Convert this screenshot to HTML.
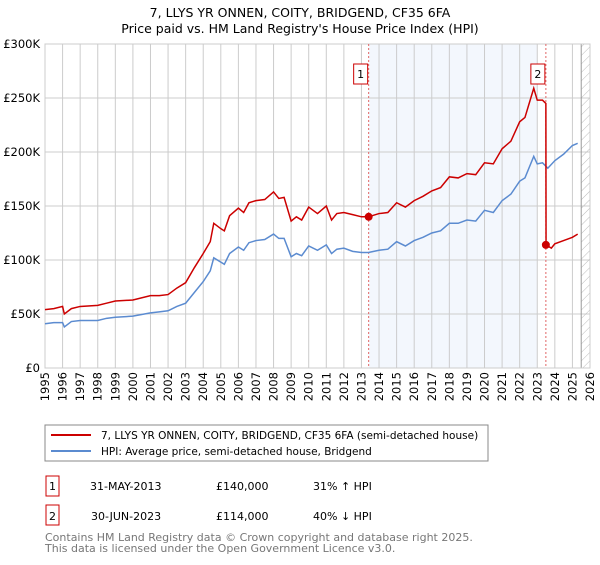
<!DOCTYPE html>
<html><head><meta charset="utf-8"><style>
body{margin:0;background:#fff;font-family:"Liberation Sans","DejaVu Sans",sans-serif;}
svg text{font-family:"DejaVu Sans","Liberation Sans",sans-serif;}
</style></head><body>
<svg id="chart" width="600" height="560">
<text x="300" y="17" text-anchor="middle" font-size="12.5">7, LLYS YR ONNEN, COITY, BRIDGEND, CF35 6FA</text>
<text x="300" y="33" text-anchor="middle" font-size="12.5">Price paid vs. HM Land Registry's House Price Index (HPI)</text>
<g id="plot"></g>
<rect x="45" y="425" width="443" height="36" fill="#fff" stroke="#888"/>
<line x1="51" y1="435" x2="91" y2="435" stroke="#cc0000" stroke-width="2"/>
<text x="101" y="439" font-size="10.5">7, LLYS YR ONNEN, COITY, BRIDGEND, CF35 6FA (semi-detached house)</text>
<line x1="51" y1="451" x2="91" y2="451" stroke="#5b8bd0" stroke-width="2"/>
<text x="101" y="455" font-size="10.5">HPI: Average price, semi-detached house, Bridgend</text>
<rect x="46" y="476" width="13" height="20" fill="none" stroke="#cc0000"/>
<text x="52.5" y="490" text-anchor="middle" font-size="11">1</text>
<text x="90" y="490" font-size="11">31-MAY-2013</text>
<text x="216" y="490" font-size="11">£140,000</text>
<text x="313" y="490" font-size="11">31% ↑ HPI</text>
<rect x="46" y="505" width="13" height="20" fill="none" stroke="#cc0000"/>
<text x="52.5" y="520" text-anchor="middle" font-size="11">2</text>
<text x="91" y="520" font-size="11">30-JUN-2023</text>
<text x="216" y="520" font-size="11">£114,000</text>
<text x="313" y="520" font-size="11">40% ↓ HPI</text>
<text x="45" y="541" font-size="11" fill="#777">Contains HM Land Registry data © Crown copyright and database right 2025.</text>
<text x="45" y="552" font-size="11" fill="#777">This data is licensed under the Open Government Licence v3.0.</text>
</svg>
<script>
const yTicks=[0,50,100,150,200,250,300];
const yTickLabels=["£0","£50K","£100K","£150K","£200K","£250K","£300K"];
const xYears=[1995,1996,1997,1998,1999,2000,2001,2002,2003,2004,2005,2006,2007,2008,2009,2010,2011,2012,2013,2014,2015,2016,2017,2018,2019,2020,2021,2022,2023,2024,2025,2026];
const hpiT=[1995,1995.5,1996,1996.1,1996.5,1997,1998,1998.5,1999,2000,2001,2001.5,2002,2002.5,2003,2003.5,2004,2004.4,2004.6,2005,2005.2,2005.5,2006,2006.3,2006.6,2007,2007.5,2008,2008.3,2008.6,2009,2009.3,2009.6,2010,2010.5,2011,2011.3,2011.6,2012,2012.5,2013,2013.4,2014,2014.5,2015,2015.5,2016,2016.5,2017,2017.5,2018,2018.5,2019,2019.5,2020,2020.5,2021,2021.5,2022,2022.3,2022.8,2023,2023.3,2023.6,2024,2024.5,2025,2025.3];
const hpiV=[41,42,42,38,43,44,44,46,47,48,51,52,53,57,60,70,80,90,102,98,96,106,112,109,116,118,119,124,120,120,103,106,104,113,109,114,106,110,111,108,107,107,109,110,117,113,118,121,125,127,134,134,137,136,146,144,155,161,173,176,196,189,190,185,192,198,206,208];
const priceT=[1995,1995.5,1996,1996.1,1996.5,1997,1998,1998.5,1999,2000,2001,2001.5,2002,2002.5,2003,2003.5,2004,2004.4,2004.6,2005,2005.2,2005.5,2006,2006.3,2006.6,2007,2007.5,2008,2008.3,2008.6,2009,2009.3,2009.6,2010,2010.5,2011,2011.3,2011.6,2012,2012.5,2013,2013.4,2014,2014.5,2015,2015.5,2016,2016.5,2017,2017.5,2018,2018.5,2019,2019.5,2020,2020.5,2021,2021.5,2022,2022.3,2022.8,2023,2023.3,2023.49,2023.5,2023.8,2024,2024.5,2025,2025.3];
const priceV=[54,55,57,50,55,57,58,60,62,63,67,67,68,74,79,93,106,117,134,129,127,141,148,144,153,155,156,163,157,158,136,140,137,149,143,150,137,143,144,142,140,140,143,144,153,149,155,159,164,167,177,176,180,179,190,189,203,210,228,232,259,248,248,245,114,111,115,118,121,124];
const salesT=[2013.41,2023.49];
const salesV=[140,114];
const salesLabels=["1","2"];

const NS="http://www.w3.org/2000/svg";
const L=45,R=590,T=44,B=368;
const x0=1995,x1=2026,yMax=300;
const sx=t=>L+(t-x0)/(x1-x0)*(R-L);
const sy=v=>B-v/yMax*(B-T);
const g=document.getElementById('plot');
function mk(tag,attrs){const e=document.createElementNS(NS,tag);for(const k in attrs)e.setAttribute(k,attrs[k]);g.appendChild(e);return e;}

let e=mk('rect',{x:sx(salesT[0]),y:T,width:sx(2023)-sx(salesT[0]),height:B-T,fill:'#eef3fc',opacity:0.7});


xYears.forEach(y=>{const l=mk('line',{x1:sx(y),x2:sx(y),y1:T,y2:B,stroke:'#ccc','stroke-width':1});


const tx=mk('text',{x:0,y:0,'font-size':11.5,'text-anchor':'end',transform:`translate(${sx(y)+4},${B+4}) rotate(-90)`});tx.textContent=y;

});
yTicks.forEach((v,i)=>{const l=mk('line',{x1:L,x2:R,y1:sy(v),y2:sy(v),stroke:'#ccc','stroke-width':1});


const tx=mk('text',{x:L-5,y:sy(v)+4,'font-size':11.5,'text-anchor':'end'});tx.textContent=yTickLabels[i];

});
const defs=mk('defs',{});
defs.innerHTML='<pattern id="h" width="6" height="6" patternUnits="userSpaceOnUse" patternTransform="rotate(45)"><line x1="0" y1="0" x2="0" y2="6" stroke="#bbb" stroke-width="1"/></pattern>';
e=mk('rect',{x:sx(2025.5),y:T,width:R-sx(2025.5),height:B-T,fill:'url(#h)'});


e=mk('line',{x1:sx(2025.5),x2:sx(2025.5),y1:T,y2:B,stroke:'#999'});


e=mk('rect',{x:L,y:T,width:R-L,height:B-T,fill:'none',stroke:'#ccc'});


salesT.forEach((t,i)=>{const l=mk('line',{x1:sx(t),x2:sx(t),y1:T,y2:B,stroke:'#e06666','stroke-dasharray':'2,2'});


const r=mk('rect',{x:sx(t)-15,y:64,width:14,height:20,fill:'#fff',stroke:'#cc0000'});


const tx=mk('text',{x:sx(t)-8,y:78,'font-size':11,'text-anchor':'middle'});tx.textContent=salesLabels[i];

});
e=mk('polyline',{points:hpiT.map((t,i)=>sx(t)+','+sy(hpiV[i])).join(' '),fill:'none',stroke:'#5b8bd0','stroke-width':1.5});


e=mk('polyline',{points:priceT.map((t,i)=>sx(t)+','+sy(priceV[i])).join(' '),fill:'none',stroke:'#cc0000','stroke-width':1.5});


salesT.forEach((t,i)=>{const c=mk('circle',{cx:sx(t),cy:sy(salesV[i]),r:4,fill:'#cc0000'});

});
</script>
</body></html>
